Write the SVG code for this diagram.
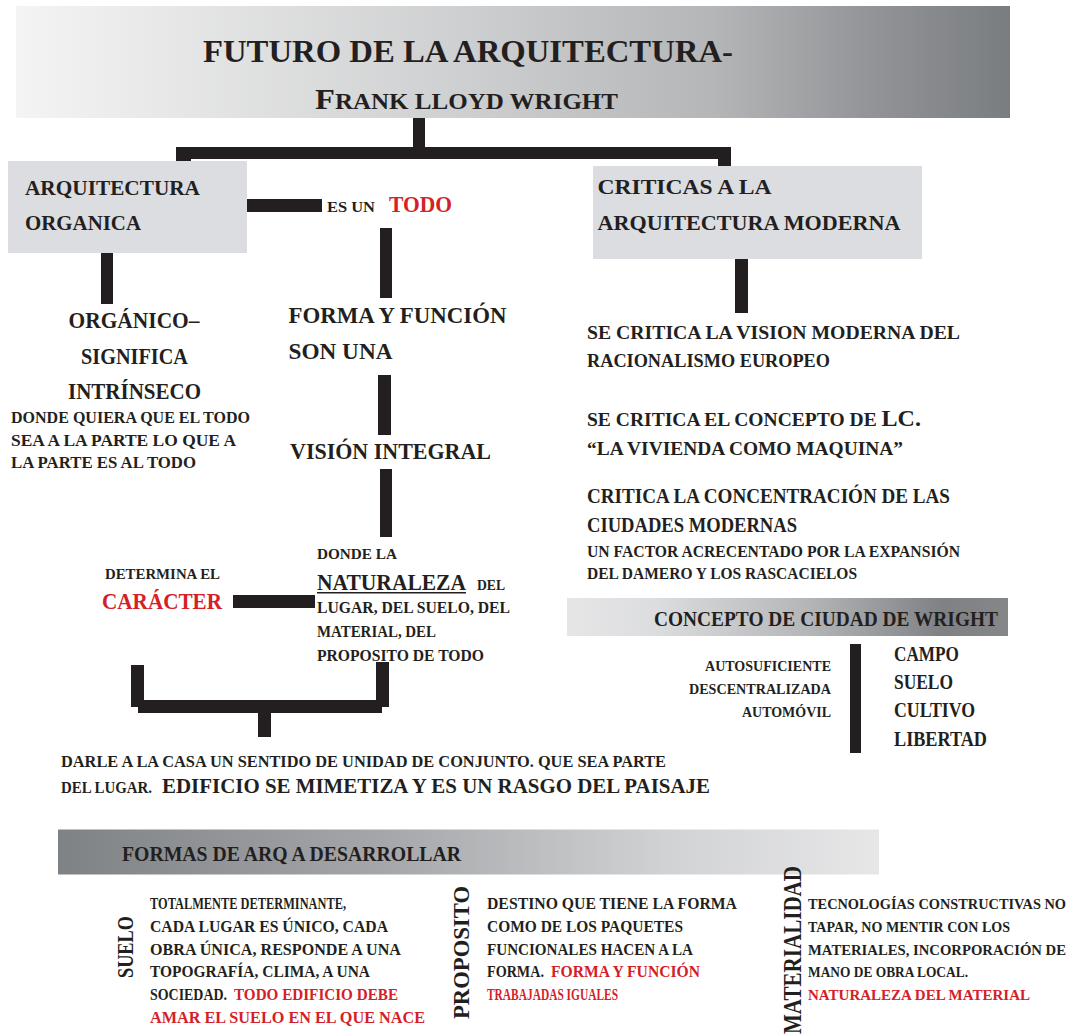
<svg xmlns="http://www.w3.org/2000/svg" width="1076" height="1036" viewBox="0 0 1076 1036">
<defs>
<linearGradient id="gTitle" x1="0" y1="0" x2="1" y2="0">
<stop offset="0" stop-color="#f4f4f4"/>
<stop offset="0.45" stop-color="#cecfd0"/>
<stop offset="0.7" stop-color="#b5b6b8"/>
<stop offset="0.86" stop-color="#929497"/>
<stop offset="1" stop-color="#7a7d80"/>
</linearGradient>
<linearGradient id="gCiudad" x1="0" y1="0" x2="1" y2="0">
<stop offset="0" stop-color="#e6e6e7"/>
<stop offset="0.2" stop-color="#dcdddf"/>
<stop offset="0.55" stop-color="#b4b5b7"/>
<stop offset="0.85" stop-color="#808184"/>
<stop offset="1" stop-color="#858688"/>
</linearGradient>
<linearGradient id="gFormas" x1="0" y1="0" x2="1" y2="0">
<stop offset="0" stop-color="#7f8285"/>
<stop offset="0.4" stop-color="#a5a7aa"/>
<stop offset="0.75" stop-color="#d2d3d5"/>
<stop offset="1" stop-color="#e7e7e8"/>
</linearGradient>
</defs>
<style>
text{font-family:"Liberation Serif","Times New Roman",serif;font-weight:bold;fill:#231f20}
.red{fill:#d42027}
.bar{fill:#231f20}
.box{fill:#dcdde0}
</style>
<rect width="1076" height="1036" fill="#ffffff"/>

<g id="connectors">
<rect class="bar" x="413" y="111" width="12" height="37"/>
<rect class="bar" x="176" y="147" width="555" height="12"/>
<rect class="bar" x="176" y="147" width="15" height="18"/>
<rect class="bar" x="718" y="150" width="13" height="18"/>
<rect class="bar" x="244" y="199" width="78" height="13"/>
<rect class="bar" x="101" y="241" width="12" height="63"/>
<rect class="bar" x="380" y="228" width="12" height="70"/>
<rect class="bar" x="735" y="238" width="13" height="75"/>
<rect class="bar" x="378" y="375" width="13" height="60"/>
<rect class="bar" x="380" y="469" width="12" height="68"/>
<rect class="bar" x="233" y="595" width="82" height="13"/>
<rect class="bar" x="131" y="665" width="13" height="42"/>
<rect class="bar" x="138" y="700" width="244" height="13"/>
<rect class="bar" x="376" y="662" width="13" height="45"/>
<rect class="bar" x="258" y="712" width="13" height="25"/>
<rect class="bar" x="850" y="644" width="11" height="109"/>
</g>

<g id="title">
<rect x="16" y="6" width="994" height="112" fill="url(#gTitle)"/>
<text x="203" y="61.5" font-size="31" textLength="530" lengthAdjust="spacingAndGlyphs">FUTURO DE LA ARQUITECTURA-</text>
<text x="315" y="109" font-size="23" textLength="303" lengthAdjust="spacingAndGlyphs"><tspan font-size="30">F</tspan>RANK LLOYD WRIGHT</text>
</g>

<g id="arq-organica">
<rect class="box" x="8" y="161" width="239" height="92"/>
<text x="25" y="194.5" font-size="22" textLength="175" lengthAdjust="spacingAndGlyphs">ARQUITECTURA</text>
<text x="25" y="230" font-size="22" textLength="116" lengthAdjust="spacingAndGlyphs">ORGANICA</text>
</g>

<g id="es-un-todo">
<text x="327" y="211.5" font-size="15" textLength="48" lengthAdjust="spacingAndGlyphs">ES UN</text>
<text class="red" x="389" y="211.5" font-size="24" textLength="63" lengthAdjust="spacingAndGlyphs">TODO</text>
</g>

<g id="criticas">
<rect class="box" x="593" y="166" width="329" height="93"/>
<text x="597.5" y="194" font-size="22" textLength="174" lengthAdjust="spacingAndGlyphs">CRITICAS A LA</text>
<text x="597.5" y="229.5" font-size="22" textLength="303" lengthAdjust="spacingAndGlyphs">ARQUITECTURA MODERNA</text>
</g>

<g id="organico">
<text x="134" y="327.5" font-size="23" text-anchor="middle" textLength="131" lengthAdjust="spacingAndGlyphs">ORGÁNICO–</text>
<text x="134.5" y="363.5" font-size="23" text-anchor="middle" textLength="107" lengthAdjust="spacingAndGlyphs">SIGNIFICA</text>
<text x="134.5" y="399" font-size="23" text-anchor="middle" textLength="133" lengthAdjust="spacingAndGlyphs">INTRÍNSECO</text>
<text x="11" y="423" font-size="16.5" textLength="239" lengthAdjust="spacingAndGlyphs">DONDE QUIERA QUE EL TODO</text>
<text x="11" y="445.5" font-size="16.5" textLength="225" lengthAdjust="spacingAndGlyphs">SEA A LA PARTE LO QUE A</text>
<text x="11" y="468" font-size="16.5" textLength="185" lengthAdjust="spacingAndGlyphs">LA PARTE ES AL TODO</text>
</g>

<g id="forma-funcion">
<text x="288.5" y="322.5" font-size="22.5" textLength="218" lengthAdjust="spacingAndGlyphs">FORMA Y FUNCIÓN</text>
<text x="288.5" y="358.5" font-size="22.5" textLength="104" lengthAdjust="spacingAndGlyphs">SON UNA</text>
</g>

<g id="vision-integral">
<text x="290" y="459" font-size="22.5" textLength="201" lengthAdjust="spacingAndGlyphs">VISIÓN INTEGRAL</text>
</g>

<g id="naturaleza">
<text x="317" y="558.5" font-size="15" textLength="80" lengthAdjust="spacingAndGlyphs">DONDE LA</text>
<text x="317" y="589.5" font-size="23" textLength="149" lengthAdjust="spacingAndGlyphs">NATURALEZA</text>
<rect x="317" y="592" width="149" height="1.5" fill="#231f20"/>
<text x="477" y="589.5" font-size="15" textLength="28" lengthAdjust="spacingAndGlyphs">DEL</text>
<text x="317" y="613" font-size="16" textLength="193" lengthAdjust="spacingAndGlyphs">LUGAR, DEL SUELO, DEL</text>
<text x="317" y="637" font-size="16" textLength="119" lengthAdjust="spacingAndGlyphs">MATERIAL, DEL</text>
<text x="317" y="660.5" font-size="16" textLength="167" lengthAdjust="spacingAndGlyphs">PROPOSITO DE TODO</text>
</g>

<g id="caracter">
<text x="105" y="578.5" font-size="15" textLength="115" lengthAdjust="spacingAndGlyphs">DETERMINA EL</text>
<text class="red" x="102" y="609" font-size="23" textLength="120" lengthAdjust="spacingAndGlyphs">CARÁCTER</text>
</g>

<g id="criticas-texto">
<text x="587" y="338.5" font-size="19.5" textLength="373" lengthAdjust="spacingAndGlyphs">SE CRITICA LA VISION MODERNA DEL</text>
<text x="587" y="367" font-size="19.5" textLength="243" lengthAdjust="spacingAndGlyphs">RACIONALISMO EUROPEO</text>
<text x="587" y="425.5" font-size="19.5" textLength="334" lengthAdjust="spacingAndGlyphs">SE CRITICA EL CONCEPTO DE <tspan font-size="24">LC.</tspan></text>
<text x="587" y="454.5" font-size="19.5" textLength="316" lengthAdjust="spacingAndGlyphs">“LA VIVIENDA COMO MAQUINA”</text>
<text x="587" y="503" font-size="20" textLength="363" lengthAdjust="spacingAndGlyphs">CRITICA LA CONCENTRACIÓN DE LAS</text>
<text x="587" y="532" font-size="20" textLength="210" lengthAdjust="spacingAndGlyphs">CIUDADES MODERNAS</text>
<text x="587" y="556.5" font-size="16" textLength="373" lengthAdjust="spacingAndGlyphs">UN FACTOR ACRECENTADO POR LA EXPANSIÓN</text>
<text x="587" y="579" font-size="16" textLength="270" lengthAdjust="spacingAndGlyphs">DEL DAMERO Y LOS RASCACIELOS</text>
</g>

<g id="ciudad-wright">
<rect x="567" y="598" width="441" height="38" fill="url(#gCiudad)"/>
<text x="654" y="626" font-size="20.5" textLength="344" lengthAdjust="spacingAndGlyphs">CONCEPTO DE CIUDAD DE WRIGHT</text>
<text x="831" y="671" font-size="15.5" text-anchor="end" textLength="126" lengthAdjust="spacingAndGlyphs">AUTOSUFICIENTE</text>
<text x="831" y="694" font-size="15.5" text-anchor="end" textLength="142" lengthAdjust="spacingAndGlyphs">DESCENTRALIZADA</text>
<text x="831" y="717" font-size="15.5" text-anchor="end" textLength="89" lengthAdjust="spacingAndGlyphs">AUTOMÓVIL</text>
<text x="894" y="661" font-size="21" textLength="65" lengthAdjust="spacingAndGlyphs">CAMPO</text>
<text x="894" y="689" font-size="21" textLength="59" lengthAdjust="spacingAndGlyphs">SUELO</text>
<text x="894" y="717" font-size="21" textLength="81" lengthAdjust="spacingAndGlyphs">CULTIVO</text>
<text x="894" y="746" font-size="21" textLength="93" lengthAdjust="spacingAndGlyphs">LIBERTAD</text>
</g>

<g id="conjunto">
<text x="61" y="766.5" font-size="16" textLength="605" lengthAdjust="spacingAndGlyphs">DARLE A LA CASA UN SENTIDO DE UNIDAD DE CONJUNTO. QUE SEA PARTE</text>
<text x="61" y="793" font-size="16" textLength="91" lengthAdjust="spacingAndGlyphs">DEL LUGAR.</text>
<text x="162" y="793" font-size="20" textLength="548" lengthAdjust="spacingAndGlyphs">EDIFICIO SE MIMETIZA Y ES UN RASGO DEL PAISAJE</text>
</g>

<g id="formas">
<rect x="58" y="829.5" width="821" height="45" fill="url(#gFormas)"/>
<text x="122" y="861" font-size="20.5" textLength="339" lengthAdjust="spacingAndGlyphs">FORMAS DE ARQ A DESARROLLAR</text>
</g>

<g id="suelo">
<text transform="translate(132.5 978) rotate(-90)" x="0" y="0" font-size="24" textLength="62" lengthAdjust="spacingAndGlyphs">SUELO</text>
<text x="150" y="908.5" font-size="16.5" textLength="196" lengthAdjust="spacingAndGlyphs">TOTALMENTE DETERMINANTE,</text>
<text x="150" y="931.5" font-size="16.5" textLength="238" lengthAdjust="spacingAndGlyphs">CADA LUGAR ES ÚNICO, CADA</text>
<text x="150" y="954.5" font-size="16.5" textLength="251" lengthAdjust="spacingAndGlyphs">OBRA ÚNICA, RESPONDE A UNA</text>
<text x="150" y="977" font-size="16.5" textLength="220" lengthAdjust="spacingAndGlyphs">TOPOGRAFÍA, CLIMA, A UNA</text>
<text x="150" y="1000" font-size="16.5" textLength="77" lengthAdjust="spacingAndGlyphs">SOCIEDAD.</text>
<text class="red" x="234" y="1000" font-size="16.5" textLength="164" lengthAdjust="spacingAndGlyphs">TODO EDIFICIO DEBE</text>
<text class="red" x="150" y="1022.5" font-size="16.5" textLength="275" lengthAdjust="spacingAndGlyphs">AMAR EL SUELO EN EL QUE NACE</text>
</g>

<g id="proposito">
<text transform="translate(468.5 1019) rotate(-90)" x="0" y="0" font-size="24" textLength="133" lengthAdjust="spacingAndGlyphs">PROPOSITO</text>
<text x="487" y="908.5" font-size="16.5" textLength="250" lengthAdjust="spacingAndGlyphs">DESTINO QUE TIENE LA FORMA</text>
<text x="487" y="931.5" font-size="16.5" textLength="196" lengthAdjust="spacingAndGlyphs">COMO DE LOS PAQUETES</text>
<text x="487" y="954.5" font-size="16.5" textLength="206" lengthAdjust="spacingAndGlyphs">FUNCIONALES HACEN A LA</text>
<text x="487" y="977" font-size="16.5" textLength="57" lengthAdjust="spacingAndGlyphs">FORMA.</text>
<text class="red" x="551" y="977" font-size="16.5" textLength="149" lengthAdjust="spacingAndGlyphs">FORMA Y FUNCIÓN</text>
<text class="red" x="487" y="1000" font-size="16.5" textLength="131" lengthAdjust="spacingAndGlyphs">TRABAJADAS IGUALES</text>
</g>

<g id="materialidad">
<text transform="translate(800.5 1034) rotate(-90)" x="0" y="0" font-size="25" textLength="168" lengthAdjust="spacingAndGlyphs">MATERIALIDAD</text>
<text x="808" y="908.5" font-size="14.5" textLength="258" lengthAdjust="spacingAndGlyphs">TECNOLOGÍAS CONSTRUCTIVAS NO</text>
<text x="808" y="931.5" font-size="15" textLength="202" lengthAdjust="spacingAndGlyphs">TAPAR, NO MENTIR CON LOS</text>
<text x="808" y="954.5" font-size="14.5" textLength="258" lengthAdjust="spacingAndGlyphs">MATERIALES, INCORPORACIÓN DE</text>
<text x="808" y="977" font-size="15" textLength="160" lengthAdjust="spacingAndGlyphs">MANO DE OBRA LOCAL.</text>
<text class="red" x="808" y="1000" font-size="15" textLength="222" lengthAdjust="spacingAndGlyphs">NATURALEZA DEL MATERIAL</text>
</g>
</svg>
